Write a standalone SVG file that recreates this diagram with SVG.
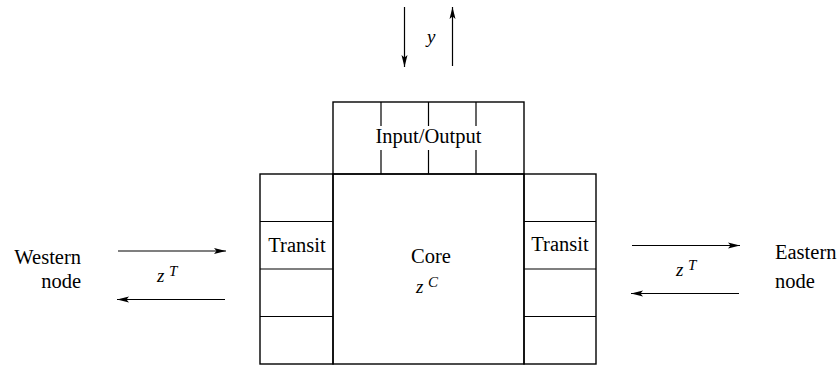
<svg xmlns="http://www.w3.org/2000/svg" width="840" height="367" viewBox="0 0 840 367">
  <style>
    .box { fill: none; stroke: #000; stroke-width: 1.4; }
    .cell { stroke: #000; stroke-width: 1.2; fill: none; }
    .lbl { font-family: 'Liberation Serif', 'DejaVu Serif', 'Noto Serif', serif; font-size: 20.5px; fill: #000; }
    .math { font-family: 'Liberation Serif', 'DejaVu Serif', serif; font-style: italic; font-size: 19px; fill: #000; }
    .sup { font-family: 'Liberation Serif', 'DejaVu Serif', serif; font-style: italic; font-size: 15px; fill: #000; }
    .flow { stroke: #000; stroke-width: 1.2; fill: none; marker-end: url(#head); }
  </style>
  <defs>
    <marker id="head" markerUnits="userSpaceOnUse" markerWidth="14" markerHeight="8" refX="12" refY="4" orient="auto">
      <path d="M0,1 L12,4 L0,7 L2.5,4 Z" fill="#000"/>
    </marker>
  </defs>
  <rect width="840" height="367" fill="#fff"/>

  <!-- Input/Output buffer row above the core -->
  <g id="io">
    <rect class="box" x="333" y="102" width="191" height="72"/>
    <path class="cell" d="M381,102 V126 M381,150 V174 M428.5,102 V126 M428.5,150 V174 M476,102 V126 M476,150 V174"/>
    <text class="lbl" x="428.5" y="143" text-anchor="middle">Input/Output</text>
  </g>

  <!-- Core processor -->
  <g id="core">
    <rect class="box" x="333" y="174" width="191" height="190"/>
    <text class="lbl" x="431" y="263" text-anchor="middle">Core</text>
    <text class="math" x="416" y="293">z</text>
    <text class="sup" x="428" y="287">C</text>
  </g>

  <!-- Western transit buffers -->
  <g id="transit-west">
    <rect class="box" x="260" y="174" width="73" height="190"/>
    <path class="cell" d="M260,221.5 H333 M260,269 H333 M260,316.5 H333"/>
    <text class="lbl" x="297" y="252" text-anchor="middle">Transit</text>
  </g>

  <!-- Eastern transit buffers -->
  <g id="transit-east">
    <rect class="box" x="524" y="174" width="72" height="190"/>
    <path class="cell" d="M524,221.5 H596 M524,269 H596 M524,316.5 H596"/>
    <text class="lbl" x="560" y="251" text-anchor="middle">Transit</text>
  </g>

  <!-- Neighbouring nodes -->
  <g id="western-node">
    <text class="lbl" x="81" y="264" text-anchor="end">Western</text>
    <text class="lbl" x="81" y="288" text-anchor="end">node</text>
  </g>
  <g id="eastern-node">
    <text class="lbl" x="775" y="259">Eastern</text>
    <text class="lbl" x="775" y="288">node</text>
  </g>

  <!-- Data flows -->
  <g id="connectors">
    <line class="flow" x1="404.5" y1="7" x2="404.5" y2="67"/>
    <line class="flow" x1="452.5" y1="66" x2="452.5" y2="7"/>
    <text class="math" x="427" y="43">y</text>

    <line class="flow" x1="118" y1="251" x2="226" y2="251"/>
    <line class="flow" x1="225" y1="299.5" x2="117" y2="299.5"/>
    <text class="math" x="157" y="282">z</text>
    <text class="sup" x="169" y="276">T</text>

    <line class="flow" x1="632" y1="245.5" x2="740" y2="245.5"/>
    <line class="flow" x1="739" y1="293.5" x2="631" y2="293.5"/>
    <text class="math" x="676" y="276">z</text>
    <text class="sup" x="688" y="270">T</text>
  </g>
</svg>
